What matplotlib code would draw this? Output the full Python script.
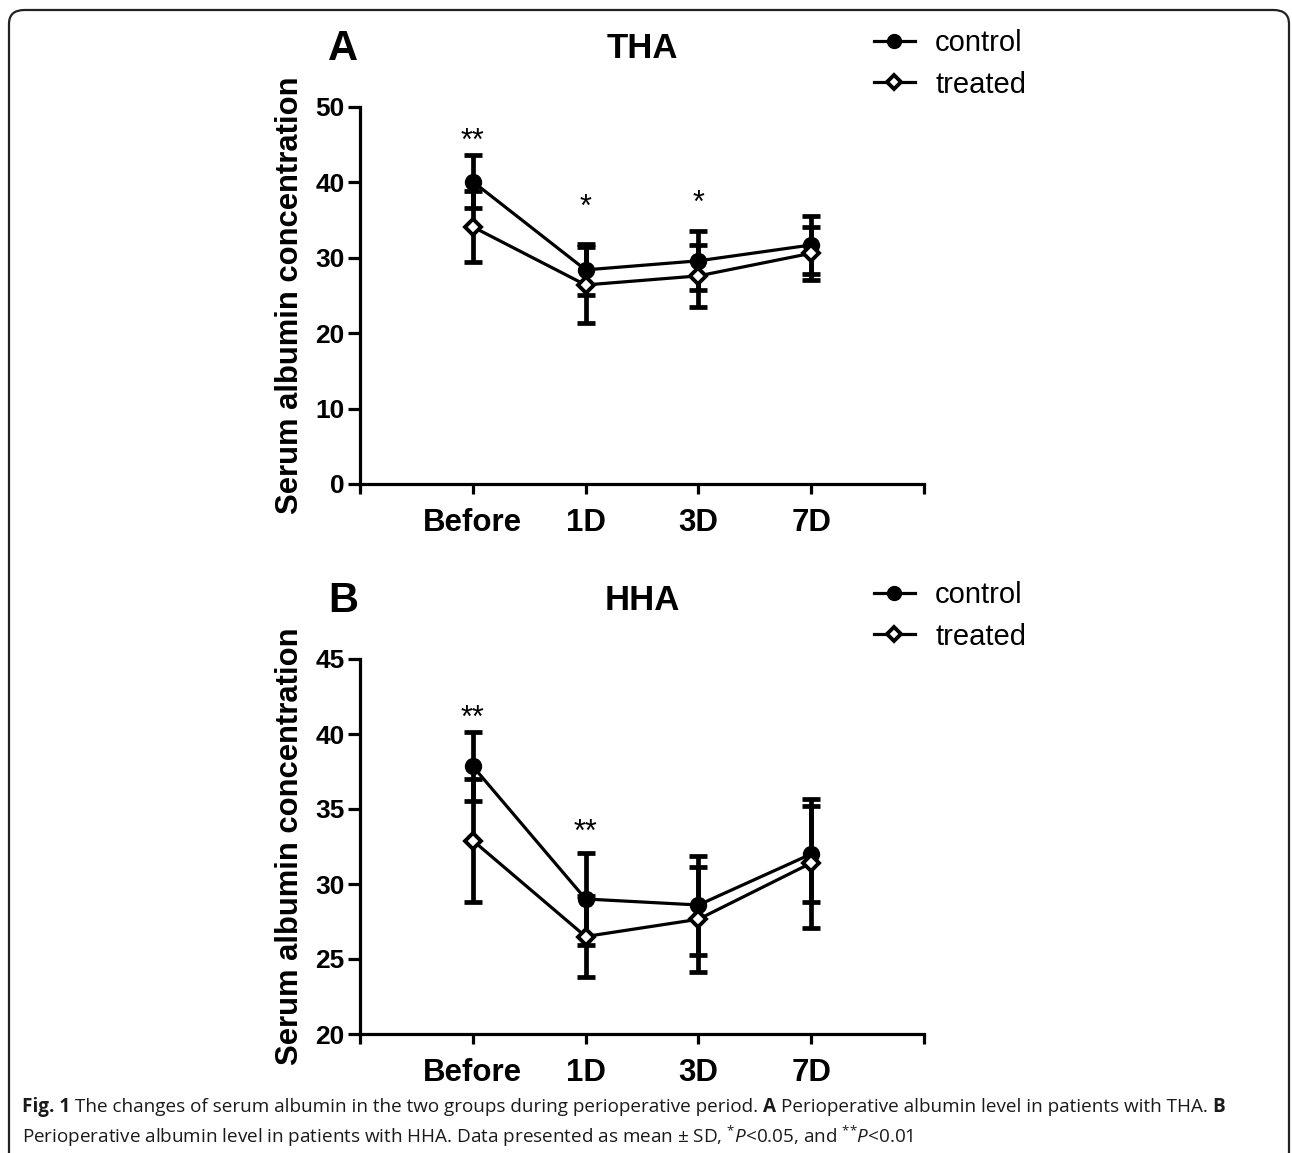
import matplotlib
matplotlib.use("Agg")
import matplotlib.pyplot as plt
from matplotlib.lines import Line2D
from matplotlib.patches import FancyBboxPatch

# ---------------- data ----------------
categories = ["Before", "1D", "3D", "7D"]
groups = ["control", "treated"]

tha_control_mean = [40.1, 28.4, 29.6, 31.7]
tha_control_sd = [3.55, 3.4, 3.9, 3.8]
tha_treated_mean = [34.1, 26.4, 27.6, 30.6]
tha_treated_sd = [4.7, 5.0, 4.1, 3.5]

hha_control_mean = [37.85, 29.0, 28.6, 32.0]
hha_control_sd = [2.3, 3.05, 3.3, 3.2]
hha_treated_mean = [32.9, 26.5, 27.65, 31.4]
hha_treated_sd = [4.1, 2.7, 3.5, 4.3]

tha_stars = ["**", "*", "*", ""]
tha_star_y = [44.3, 35.6, 36.1, 0]
hha_stars = ["**", "**", "", ""]
hha_star_y = [40.5, 32.9, 0, 0]

tha_yticks = [0, 10, 20, 30, 40, 50]
hha_yticks = [20, 25, 30, 35, 40, 45]

caption_line1 = [("Fig. 1", "bold"),
                 ("The changes of serum albumin in the two groups during perioperative period.", "normal"),
                 ("A", "bold"),
                 ("Perioperative albumin level in patients with THA.", "normal"),
                 ("B", "bold")]
caption_line2 = (r"Perioperative albumin level in patients with HHA. Data presented as mean "
                 r"± SD, $^{{*}}\mathit{P}$<0.05, and $^{{*}{*}}\mathit{P}$<0.01")

# ---------------- style ----------------
W, H = 1292, 1153
plt.rcParams["font.family"] = ["Liberation Sans", "DejaVu Sans"]
plt.rcParams["mathtext.fontset"] = "custom"
plt.rcParams["mathtext.rm"] = "Open Sans"
plt.rcParams["mathtext.it"] = "Open Sans:italic"
plt.rcParams["mathtext.bf"] = "Open Sans:bold"

fig = plt.figure(figsize=(W / 100, H / 100), dpi=100)


def fx(px):
    return px / W


def fy(py):
    return 1 - py / H


LW_SPINE = 2.3
x = list(range(1, len(categories) + 1))


def draw_panel(top, bottom, ymin, ymax, yticks, c_mean, c_sd, t_mean, t_sd,
               stars, star_y, letter, title):
    ax = fig.add_axes([fx(360), fy(bottom), fx(924) - fx(360), fy(top) - fy(bottom)])
    for s in ["top", "right"]:
        ax.spines[s].set_visible(False)
    for s in ["left", "bottom"]:
        ax.spines[s].set_linewidth(LW_SPINE)
    ax.set_xlim(0, len(categories) + 1)
    ax.set_ylim(ymin, ymax)
    ax.set_xticks(range(0, len(categories) + 2))
    ax.set_xticklabels([""] + categories + [""], fontsize=22.5, fontweight="bold")
    ax.set_yticks(yticks)
    ax.set_yticklabels([str(v) for v in yticks], fontsize=19, fontweight="bold")
    ax.tick_params(axis="y", length=9, width=LW_SPINE, pad=2)
    ax.tick_params(axis="x", length=7, width=LW_SPINE, pad=10)

    for mean, sd in [(c_mean, c_sd), (t_mean, t_sd)]:
        ax.errorbar(x, mean, yerr=sd, fmt="none", ecolor="black",
                    elinewidth=3.4, capsize=6.5, capthick=3.4, zorder=2)
    ax.plot(x, c_mean, color="black", lw=2.3, marker="o", ms=11.5,
            mfc="black", mec="black", zorder=3)
    ax.plot(x, t_mean, color="black", lw=2.3, marker="D", ms=8,
            mfc="white", mec="black", mew=2.8, zorder=3)

    for xi, s, yv in zip(x, stars, star_y):
        if s:
            ax.text(xi, yv, s, ha="center", va="baseline", fontsize=22)

    ymid = (top + bottom) / 2
    fig.text(fx(290), fy(ymid), "Serum albumin concentration", rotation=90,
             ha="center", va="center", fontsize=22.3, fontweight="bold")
    fig.text(fx(343), fy(top - 58), letter, ha="center", va="center",
             fontsize=30, fontweight="bold")
    fig.text(fx(642), fy(top - 58), title, ha="center", va="center",
             fontsize=25, fontweight="bold")

    handles = [
        Line2D([], [], color="black", lw=2.3, marker="o", ms=10, mfc="black"),
        Line2D([], [], color="black", lw=2.3, marker="D", ms=7.5, mfc="white",
               mec="black", mew=2.8),
    ]
    fig.legend(handles, groups, loc="center left",
               bbox_to_anchor=(fx(874), fy(top - 43)), frameon=False,
               fontsize=21, handlelength=1.4, handletextpad=0.7,
               labelspacing=0.45, borderpad=0, borderaxespad=0)
    return ax


draw_panel(107, 484, 0, 50, tha_yticks, tha_control_mean, tha_control_sd,
           tha_treated_mean, tha_treated_sd, tha_stars, tha_star_y, "A", "THA")
draw_panel(659, 1034, 20, 45, hha_yticks, hha_control_mean, hha_control_sd,
           hha_treated_mean, hha_treated_sd, hha_stars, hha_star_y, "B", "HHA")

# ---------------- frame ----------------
frame = FancyBboxPatch((fx(9), fy(1200)), fx(1289) - fx(9), fy(10) - fy(1200),
                       boxstyle="round,pad=0,rounding_size=0.012",
                       transform=fig.transFigure, fill=False,
                       edgecolor="#222222", lw=1.6)
fig.add_artist(frame)

# ---------------- caption ----------------
CAP_SIZE = 13.6
CAP_LEFT = 22
renderer = fig.canvas.get_renderer()


def _w(s, wt="normal"):
    t = fig.text(0, 0, s, fontsize=CAP_SIZE, fontweight=wt, family="Open Sans")
    w = t.get_window_extent(renderer).width
    t.remove()
    return w


space_w = _w("a a") - _w("aa")
pos = CAP_LEFT
for seg, wt in caption_line1:
    t = fig.text(fx(pos), fy(1112), seg, ha="left", va="baseline", fontsize=CAP_SIZE,
                 fontweight=wt, family="Open Sans", color="#1a1a1a")
    pos += t.get_window_extent(renderer).width + space_w

fig.text(fx(CAP_LEFT), fy(1143), caption_line2, ha="left", va="baseline",
         fontsize=CAP_SIZE, family="Open Sans", color="#1a1a1a")

fig.savefig("out.png", dpi=100)
